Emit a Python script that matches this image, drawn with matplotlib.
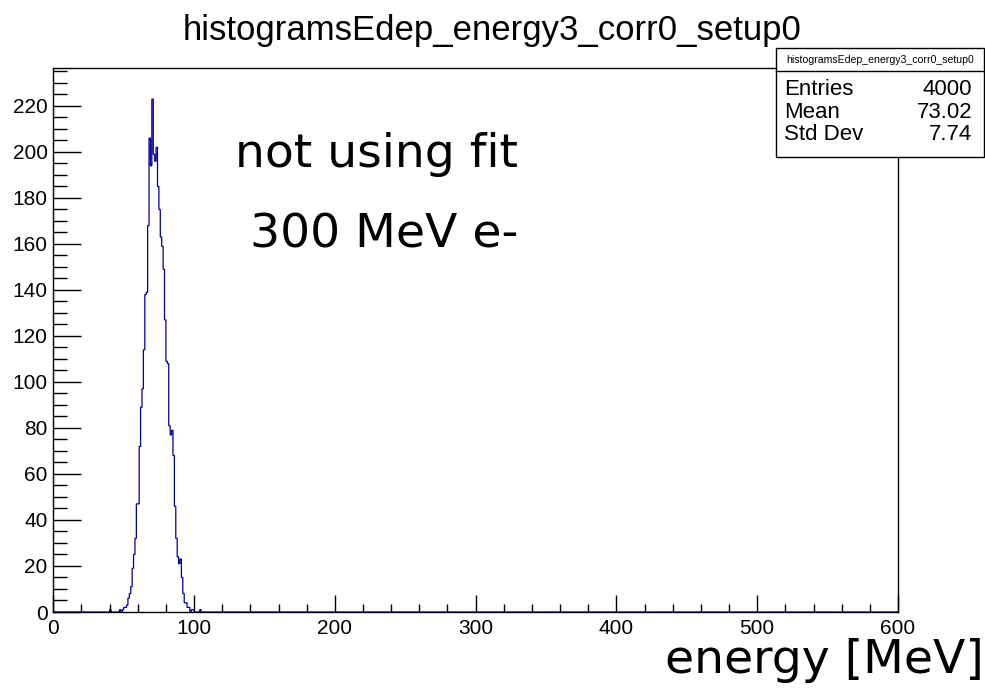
import numpy as np
import matplotlib
matplotlib.use("Agg")
import matplotlib.pyplot as plt
from matplotlib.patches import Rectangle
from matplotlib.ticker import MultipleLocator

# ---- data ----
n_bins = 600
x_min, x_max = 0, 600
bin_start = 40
counts_from_40 = [1, 0, 0, 0, 0, 0, 0, 1, 0, 1,
                  2, 2, 3, 6, 8, 11, 19, 25, 32, 47,
                  47, 72, 89, 97, 114, 138, 139, 168, 206, 194,
                  223, 199, 196, 202, 185, 175, 163, 159, 149, 127,
                  109, 108, 81, 77, 79, 68, 46, 32, 24, 21,
                  23, 15, 8, 4, 4, 2, 2, 0, 1, 1,
                  0, 0, 0, 0, 1]
title = "histogramsEdep_energy3_corr0_setup0"
stats_labels = ["Entries", "Mean", "Std Dev"]
stats_values = ["4000", "73.02", "7.74"]
x_ticks = [0, 100, 200, 300, 400, 500, 600]
y_ticks = list(range(0, 221, 20))
y_max = 236.5

counts = np.zeros(n_bins)
counts[bin_start:bin_start + len(counts_from_40)] = counts_from_40
edges = np.linspace(x_min, x_max, n_bins + 1)

W, H = 985, 690
fig = plt.figure(figsize=(W / 100, H / 100), dpi=100)
fig.patch.set_facecolor("white")

L, R, B, T = 53.3, 898, 612, 68
ax = fig.add_axes([L / W, (H - B) / H, (R - L) / W, (B - T) / H])
ax.stairs(counts, edges, color="#000099", linewidth=0.9, baseline=0)
ax.set_xlim(x_min, x_max)
ax.set_ylim(0, y_max)
ax.set_xticks(x_ticks)
ax.set_yticks(y_ticks)
ax.xaxis.set_minor_locator(MultipleLocator(20))
ax.yaxis.set_minor_locator(MultipleLocator(5))
tick_font = dict(family=["Liberation Sans", "DejaVu Sans"], size=15)
ax.set_xticklabels([str(v) for v in x_ticks], **tick_font)
ax.set_yticklabels([str(v) for v in y_ticks], **tick_font)
ax.tick_params(axis="both", which="both", direction="in", color="black", width=1)
ax.tick_params(axis="x", which="major", length=12, pad=5)
ax.tick_params(axis="x", which="minor", length=6)
ax.tick_params(axis="y", which="major", length=20, pad=4)
ax.tick_params(axis="y", which="minor", length=10)
for s in ax.spines.values():
    s.set_linewidth(1.0)
    s.set_color("black")

# title
fig.text(492 / W, 1 - 40 / H, title, ha="center", va="baseline",
         family=["Liberation Sans", "DejaVu Sans"], fontsize=25)

# annotations
big = dict(family=["DejaVu Sans"], fontsize=34)
fig.text(235 / W, 1 - 167 / H, "not using fit", ha="left", va="baseline", **big)
fig.text(250 / W, 1 - 248 / H, "300 MeV e-", ha="left", va="baseline", **big)
fig.text(984 / W, 1 - 673 / H, "energy [MeV]", ha="right", va="baseline", **big)

# stats box
bx0, bx1, by0, by1, bhead = 776, 984, 48, 157, 71
fig.patches.append(Rectangle((bx0 / W, 1 - by1 / H), (bx1 - bx0) / W, (by1 - by0) / H,
                             transform=fig.transFigure, facecolor="white",
                             edgecolor="black", linewidth=1.0, zorder=5))
fig.lines.append(plt.Line2D([bx0 / W, bx1 / W], [1 - bhead / H, 1 - bhead / H],
                            transform=fig.transFigure, color="black", linewidth=1.0, zorder=6))
sfont = dict(family=["Liberation Sans", "DejaVu Sans"], zorder=7)
fig.text((bx0 + bx1) / 2 / W, 1 - 60 / H, title, ha="center", va="center", fontsize=7.6, **sfont)
row_y = [89.3, 112, 134]
for lab, val, yy in zip(stats_labels, stats_values, row_y):
    fig.text(784 / W, 1 - yy / H, lab, ha="left", va="center", fontsize=16, **sfont)
    fig.text(972 / W, 1 - yy / H, val, ha="right", va="center", fontsize=16, **sfont)

fig.savefig("out.png", dpi=100)
